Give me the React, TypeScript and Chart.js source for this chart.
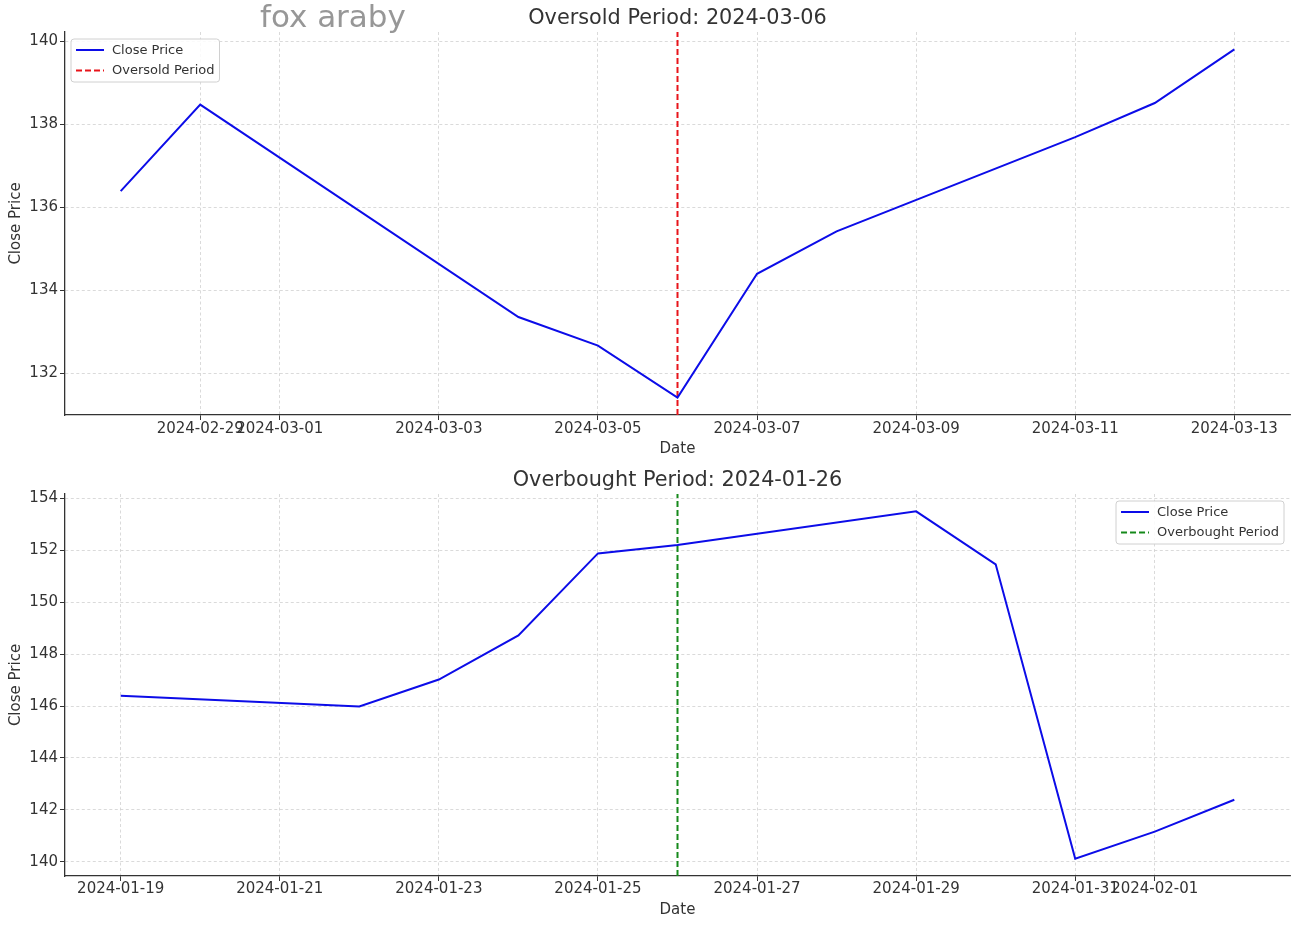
import React, { useEffect, useRef } from "react";
import { Chart, registerables } from "chart.js";
Chart.register(...registerables);

const FONT = "'DejaVu Sans', sans-serif";
const TEXT = "#333333";

// ---------- Data ----------
const oversoldDates = ["2024-02-28", "2024-02-29", "2024-03-04", "2024-03-05", "2024-03-06", "2024-03-07", "2024-03-08", "2024-03-11", "2024-03-12", "2024-03-13"];
const oversoldClose = [136.39, 138.47, 133.36, 132.67, 131.42, 134.4, 135.42, 137.69, 138.51, 139.8];
const oversoldMark = "2024-03-06";
const oversoldXTicks = ["2024-02-29", "2024-03-01", "2024-03-03", "2024-03-05", "2024-03-07", "2024-03-09", "2024-03-11", "2024-03-13"];
const oversoldYTicks = [132, 134, 136, 138, 140];

const overboughtDates = ["2024-01-19", "2024-01-22", "2024-01-23", "2024-01-24", "2024-01-25", "2024-01-26", "2024-01-29", "2024-01-30", "2024-01-31", "2024-02-01", "2024-02-02"];
const overboughtClose = [146.4, 145.98, 147.02, 148.72, 151.88, 152.2, 153.5, 151.46, 140.12, 141.16, 142.39];
const overboughtMark = "2024-01-26";
const overboughtXTicks = ["2024-01-19", "2024-01-21", "2024-01-23", "2024-01-25", "2024-01-27", "2024-01-29", "2024-01-31", "2024-02-01"];
const overboughtYTicks = [140, 142, 144, 146, 148, 150, 152, 154];

// ---------- helpers ----------
const dayNum = (s: string) => {
  const [y, m, d] = s.split("-").map(Number);
  return Date.UTC(y, m - 1, d) / 86400000;
};
const fmtDay = (v: number) => {
  const dt = new Date(Math.round(v) * 86400000);
  const p = (n: number) => String(n).padStart(2, "0");
  return `${dt.getUTCFullYear()}-${p(dt.getUTCMonth() + 1)}-${p(dt.getUTCDate())}`;
};
const withMargin = (vals: number[]) => {
  const lo = Math.min(...vals), hi = Math.max(...vals);
  const m = (hi - lo) * 0.05;
  return [lo - m, hi + m];
};

type PanelProps = {
  dates: string[];
  close: number[];
  mark: string;
  markLabel: string;
  markColor: string;
  title: string;
  xTicks: string[];
  yTicks: number[];
  corner: "tl" | "tr";
  padTop: number;
  xAxisHeight: number;
  titleY: number;
  dateLabelPad: number;
  tickPad: number;
  top: number;
};

function Panel(p: PanelProps) {
  const ref = useRef<HTMLCanvasElement | null>(null);
  useEffect(() => {
    if (!ref.current) return;
    const xs = p.dates.map(dayNum);
    const [xMin, xMax] = withMargin(xs);
    const [yMin, yMax] = withMargin(p.close);
    const markX = dayNum(p.mark);
    const xTickVals = p.xTicks.map(dayNum);

    const overlay = {
      id: "overlay",
      afterDraw(chart: any) {
        const ctx = chart.ctx;
        const a = chart.chartArea;
        ctx.save();
        // title
        ctx.fillStyle = TEXT;
        ctx.font = `20.8px ${FONT}`;
        ctx.textAlign = "center";
        ctx.textBaseline = "middle";
        ctx.fillText(p.title, (a.left + a.right) / 2, p.titleY);
        // legend
        const items = chart.data.datasets.map((d: any) => ({ label: d.label, color: d.borderColor, dash: d.borderDash || [] }));
        ctx.font = `13px ${FONT}`;
        const tw = Math.max(...items.map((it: any) => ctx.measureText(it.label).width));
        const w = 5 + 28 + 8 + tw + 5;
        const h = 43;
        const bx = p.corner === "tl" ? a.left + 6 : a.right - 6 - w;
        const by = a.top + 7;
        ctx.beginPath();
        ctx.roundRect(bx, by, w, h, 3);
        ctx.fillStyle = "rgba(255,255,255,0.85)";
        ctx.fill();
        ctx.strokeStyle = "#d0d0d0";
        ctx.lineWidth = 1;
        ctx.stroke();
        items.forEach((it: any, i: number) => {
          const ry = by + 11 + i * 20.5;
          ctx.beginPath();
          ctx.setLineDash(it.dash);
          ctx.strokeStyle = it.color;
          ctx.lineWidth = 2;
          ctx.moveTo(bx + 5, ry);
          ctx.lineTo(bx + 33, ry);
          ctx.stroke();
          ctx.setLineDash([]);
          ctx.fillStyle = TEXT;
          ctx.textAlign = "left";
          ctx.textBaseline = "middle";
          ctx.fillText(it.label, bx + 41, ry + 0.5);
        });
        ctx.restore();
      },
    };

    const chart = new Chart(ref.current, {
      type: "line",
      data: {
        datasets: [
          {
            label: "Close Price",
            data: xs.map((x, i) => ({ x, y: p.close[i] })),
            borderColor: "#0c0ce8",
            borderWidth: 2,
            pointRadius: 0,
            tension: 0,
          },
          {
            label: p.markLabel,
            data: [
              { x: markX, y: yMin },
              { x: markX, y: yMax },
            ],
            borderColor: p.markColor,
            borderWidth: 2,
            borderDash: [6, 3],
            pointRadius: 0,
          },
        ],
      },
      options: {
        responsive: false,
        animation: false,
        devicePixelRatio: 1,
        layout: { padding: { top: p.padTop, right: 10, left: 0, bottom: 0 } },
        plugins: { legend: { display: false }, tooltip: { enabled: false }, title: { display: false } },
        scales: {
          x: {
            type: "linear",
            min: xMin,
            max: xMax,
            afterBuildTicks: (s: any) => {
              s.ticks = xTickVals.map((v) => ({ value: v }));
            },
            afterFit: (s: any) => {
              s.height = p.xAxisHeight;
            },
            ticks: {
              autoSkip: false,
              maxRotation: 0,
              minRotation: 0,
              padding: p.tickPad,
              color: TEXT,
              font: { family: FONT, size: 15 },
              callback: (v: any) => fmtDay(Number(v)),
            },
            grid: { color: "#d0d0d0", lineWidth: 0.8, tickColor: "#333333", tickLength: 5, tickWidth: 1 },
            border: { color: "#333333", width: 1.3, dash: [3, 2.5] },
            title: { display: true, text: "Date", color: TEXT, font: { family: FONT, size: 15 }, padding: { top: 0, bottom: p.dateLabelPad } },
          },
          y: {
            type: "linear",
            min: yMin,
            max: yMax,
            afterBuildTicks: (s: any) => {
              s.ticks = p.yTicks.map((v) => ({ value: v }));
            },
            afterFit: (s: any) => {
              s.width = 65;
            },
            ticks: {
              padding: 2,
              color: TEXT,
              font: { family: FONT, size: 15 },
              callback: (v: any) => String(v),
            },
            grid: { color: "#d0d0d0", lineWidth: 0.8, tickColor: "#333333", tickLength: 5, tickWidth: 1 },
            border: { color: "#333333", width: 1.3, dash: [3, 2.5] },
            title: { display: true, text: "Close Price", color: TEXT, font: { family: FONT, size: 15 }, padding: { top: 7, bottom: 0 } },
          },
        },
      },
      plugins: [overlay],
    } as any);
    return () => chart.destroy();
  }, []);
  return (
    <div style={{ position: "absolute", left: 0, top: p.top, width: 1300, height: 463 }}>
      <canvas ref={ref} width={1300} height={463} style={{ width: 1300, height: 463, display: "block" }} />
    </div>
  );
}

export default function App() {
  return (
    <div style={{ position: "absolute", left: 0, top: 0, width: 1300, height: 926, background: "#ffffff" }}>
      <Panel
        dates={oversoldDates}
        close={oversoldClose}
        mark={oversoldMark}
        markLabel="Oversold Period"
        markColor="#e8141a"
        title="Oversold Period: 2024-03-06"
        xTicks={oversoldXTicks}
        yTicks={oversoldYTicks}
        corner="tl"
        padTop={32}
        xAxisHeight={48}
        titleY={19}
        dateLabelPad={5}
        tickPad={0}
        top={0}
      />
      <Panel
        dates={overboughtDates}
        close={overboughtClose}
        mark={overboughtMark}
        markLabel="Overbought Period"
        markColor="#15891a"
        title="Overbought Period: 2024-01-26"
        xTicks={overboughtXTicks}
        yTicks={overboughtYTicks}
        corner="tr"
        padTop={31}
        xAxisHeight={50}
        titleY={17.5}
        dateLabelPad={7}
        tickPad={-1}
        top={463}
      />
      <div
        style={{
          position: "absolute",
          left: 260,
          top: 1,
          fontFamily: FONT,
          fontSize: 31,
          lineHeight: "31px",
          color: "rgba(140,140,140,0.9)",
          whiteSpace: "nowrap",
          pointerEvents: "none",
        }}
      >
        fox araby
      </div>
    </div>
  );
}
